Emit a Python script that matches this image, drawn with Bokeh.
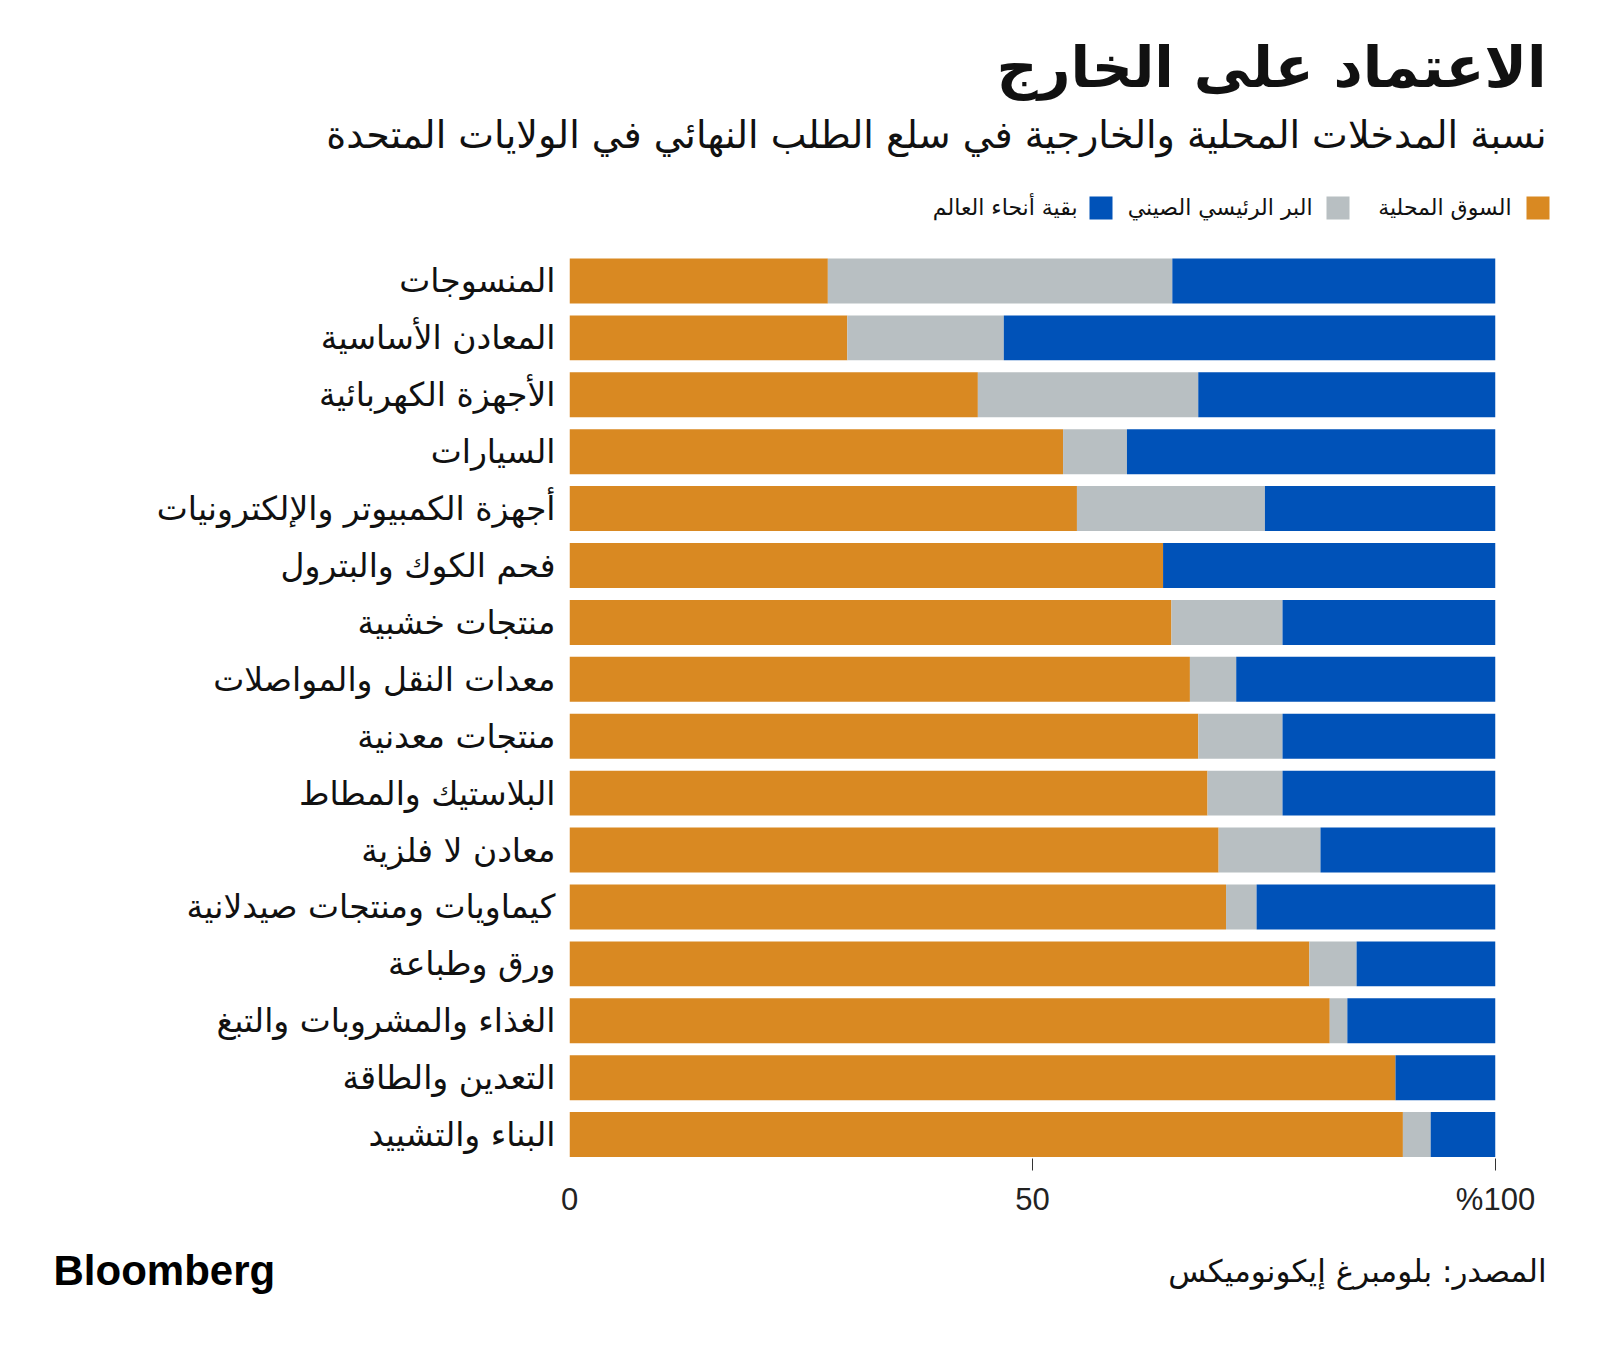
from bokeh.plotting import figure
from bokeh.models import Range1d, FixedTicker, LinearAxis
from bokeh.layouts import column
from bokeh.core.properties import value
from bokeh.embed import file_html
from bokeh.resources import INLINE

categories = [
    "المنسوجات",
    "المعادن الأساسية",
    "الأجهزة الكهربائية",
    "السيارات",
    "أجهزة الكمبيوتر والإلكترونيات",
    "فحم الكوك والبترول",
    "منتجات خشبية",
    "معدات النقل والمواصلات",
    "منتجات معدنية",
    "البلاستيك والمطاط",
    "معادن لا فلزية",
    "كيماويات ومنتجات صيدلانية",
    "ورق وطباعة",
    "الغذاء والمشروبات والتبغ",
    "التعدين والطاقة",
    "البناء والتشييد",
]
domestic = [27.9, 30.0, 44.1, 53.3, 54.8, 64.1, 65.0, 67.0, 67.9, 68.9, 70.1, 70.9, 79.9, 82.1, 89.2, 90.0]
china = [37.2, 16.9, 23.8, 6.9, 20.3, 0.0, 12.0, 5.0, 9.1, 8.1, 11.0, 3.3, 5.1, 1.9, 0.0, 3.0]
rest = [round(100 - d - c, 1) for d, c in zip(domestic, china)]
series_names = ["السوق المحلية", "البر الرئيسي الصيني", "بقية أنحاء العالم"]
x_ticks = [0, 50, 100]
x_tick_labels = ["0", "50", "%100"]
x_tick_marks = [50, 100]

title_text = "الاعتماد على الخارج"
subtitle_text = "نسبة المدخلات المحلية والخارجية في سلع الطلب النهائي في الولايات المتحدة"
source_text = "المصدر: بلومبرغ إيكونوميكس"
brand_text = "Bloomberg"

ORANGE = "#D98922"
GRAY = "#B8BFC2"
BLUE = "#0052B8"
ARABIC = "DejaVu Sans"
LATIN = "Liberation Sans"

W = 1592
HEAD_H = 240
MAIN_H = 990
FOOT_H = 100

# ---------- header ----------
head = figure(width=W, height=HEAD_H, output_backend="svg", toolbar_location=None,
              x_range=Range1d(0, W), y_range=Range1d(HEAD_H, 0),
              x_axis_type=None, y_axis_type=None, min_border=0)
head.frame_align = False
head.outline_line_color = None
head.grid.grid_line_color = None
head.text(x=[1546], y=[66], text=[title_text], text_align="right", text_baseline="middle",
          text_font=value(ARABIC), text_font_size="57px", text_font_style="bold", text_color="#111111")
head.text(x=[1546], y=[134], text=[subtitle_text], text_align="right", text_baseline="middle",
          text_font=value(ARABIC), text_font_size="38px", text_color="#111111")
legend_sq_right = [1549, 1349, 1112]
legend_tx_right = [1511, 1312, 1077]
legend_cols = [ORANGE, GRAY, BLUE]
head.quad(left=[r - 23 for r in legend_sq_right], right=legend_sq_right,
          top=[196] * 3, bottom=[219] * 3, fill_color=legend_cols, line_color=None)
head.text(x=legend_tx_right, y=[207] * 3, text=series_names, text_align="right", text_baseline="middle",
          text_font=value(ARABIC), text_font_size="22px", text_color="#111111")

# ---------- main chart ----------
p = figure(width=W, height=MAIN_H, output_backend="svg", toolbar_location=None,
           x_range=Range1d(0, 100), y_range=Range1d(15.42, -0.5),
           min_border_left=569, min_border_right=97, min_border_top=12, min_border_bottom=72)
p.frame_align = False
p.outline_line_color = None
p.grid.grid_line_color = None

ys = list(range(len(categories)))
right1 = domestic
right2 = [d + c for d, c in zip(domestic, china)]
right3 = [r2 + r for r2, r in zip(right2, rest)]
p.hbar(y=ys, left=[0] * len(ys), right=right1, height=0.79, fill_color=ORANGE, line_color=None)
p.hbar(y=ys, left=right1, right=right2, height=0.79, fill_color=GRAY, line_color=None)
p.hbar(y=ys, left=right2, right=right3, height=0.79, fill_color=BLUE, line_color=None)

# axis 1 (nearest the bars): tick marks only
xa = p.xaxis[0]
xa.ticker = FixedTicker(ticks=x_tick_marks)
xa.major_label_overrides = {t: "" for t in x_tick_marks}
xa.major_label_text_font_size = "1px"
xa.major_label_standoff = 0
xa.axis_line_color = None
xa.major_tick_in = 0
xa.major_tick_out = 12
xa.major_tick_line_color = "#333333"
xa.minor_tick_line_color = None

# axis 2: tick labels only
xl = LinearAxis(ticker=FixedTicker(ticks=x_ticks),
                major_label_overrides={t: s for t, s in zip(x_ticks, x_tick_labels)},
                axis_line_color=None, major_tick_line_color=None, minor_tick_line_color=None,
                major_tick_in=0, major_tick_out=0,
                major_label_text_font=LATIN, major_label_text_font_size="31px",
                major_label_text_color="#222222", major_label_standoff=11)
p.add_layout(xl, "below")

ya = p.yaxis[0]
ya.ticker = FixedTicker(ticks=ys)
ya.major_label_overrides = {i: c for i, c in enumerate(categories)}
ya.axis_line_color = None
ya.major_tick_line_color = None
ya.minor_tick_line_color = None
ya.major_label_text_font = ARABIC
ya.major_label_text_font_size = "33px"
ya.major_label_text_color = "#111111"
ya.major_label_standoff = 8

# ---------- footer ----------
foot = figure(width=W, height=FOOT_H, output_backend="svg", toolbar_location=None,
              x_range=Range1d(0, W), y_range=Range1d(FOOT_H, 0),
              x_axis_type=None, y_axis_type=None, min_border=0)
foot.frame_align = False
foot.outline_line_color = None
foot.grid.grid_line_color = None
foot.text(x=[53], y=[40], text=[brand_text], text_align="left", text_baseline="middle",
          text_font=value(LATIN), text_font_size="42px", text_font_style="bold", text_color="#000000")
foot.text(x=[1546], y=[40], text=[source_text], text_align="right", text_baseline="middle",
          text_font=value(ARABIC), text_font_size="31px", text_color="#111111")

layout = column(head, p, foot, spacing=0)
open("out.html", "w").write(file_html(layout, INLINE))
